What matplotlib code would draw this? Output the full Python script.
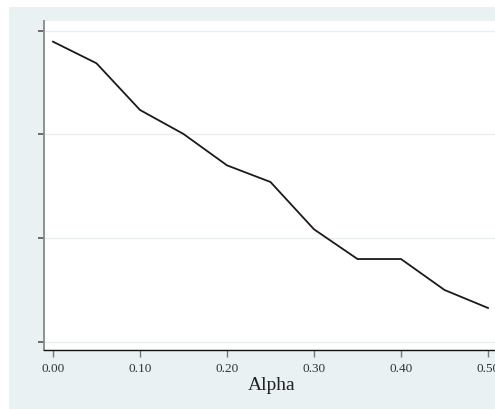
import matplotlib
matplotlib.use("Agg")
import matplotlib.pyplot as plt
from matplotlib.patches import Rectangle

# =============================
# DATA
# =============================
alpha = [0.00, 0.05, 0.10, 0.15, 0.20, 0.25, 0.30, 0.35, 0.40, 0.45, 0.50]
value = [0.8897, 0.8688, 0.8237, 0.8005, 0.7702, 0.7541, 0.7084, 0.6797, 0.6797, 0.6498, 0.6324]

x_ticks = [0.0, 0.1, 0.2, 0.3, 0.4, 0.5]
x_labels = ["0.00", "0.10", "0.20", "0.30", "0.40", "0.50"]
y_ticks = [0.6, 0.7, 0.8, 0.9]
y_labels = ["0.60", "0.70", "0.80", "0.90"]

# =============================
# FIGURE
# =============================
W, H = 495, 409
fig = plt.figure(figsize=(W / 100, H / 100), dpi=100)
fig.patch.set_facecolor("white")
# light outer panel (Stata-like graph region)
fig.patches.append(Rectangle((9 / W, 0), 1, (H - 7) / H, transform=fig.transFigure,
                             facecolor="#eaf1f3", edgecolor="none", zorder=-10))

ax = fig.add_axes([44 / W, (H - 350) / H, (500 - 44) / W, (350 - 21) / H])
ax.set_zorder(1)
ax.set_facecolor("white")

ax.plot(alpha, value, color="#1a1a1a", lw=1.3)

ax.set_xlim(-0.01034, 0.5138)
ax.set_ylim(0.59179, 0.90966)

ax.set_xticks(x_ticks)
ax.set_xticklabels(x_labels, fontsize=9.5, family="Liberation Serif", color="#333333")
ax.set_yticks(y_ticks)
ax.set_yticklabels(y_labels, fontsize=4, family="Liberation Serif", color="#c8c8c8",
                   rotation=90, va="center")

ax.tick_params(axis="x", direction="out", length=5, width=1, color="#777777", pad=4)
ax.tick_params(axis="y", direction="out", length=4, width=1.2, color="#555555", pad=27)

ax.grid(axis="y", color="#e8eff1", lw=1)
ax.set_axisbelow(True)

for s in ["top", "right"]:
    ax.spines[s].set_visible(False)
ax.spines["left"].set_color("#888888")
ax.spines["left"].set_linewidth(1.3)
ax.spines["bottom"].set_color("#111111")
ax.spines["bottom"].set_linewidth(1)

ax.set_xlabel("Alpha", fontsize=14, family="Liberation Serif", color="#222222", labelpad=2)

fig.savefig("out.png", dpi=100)
